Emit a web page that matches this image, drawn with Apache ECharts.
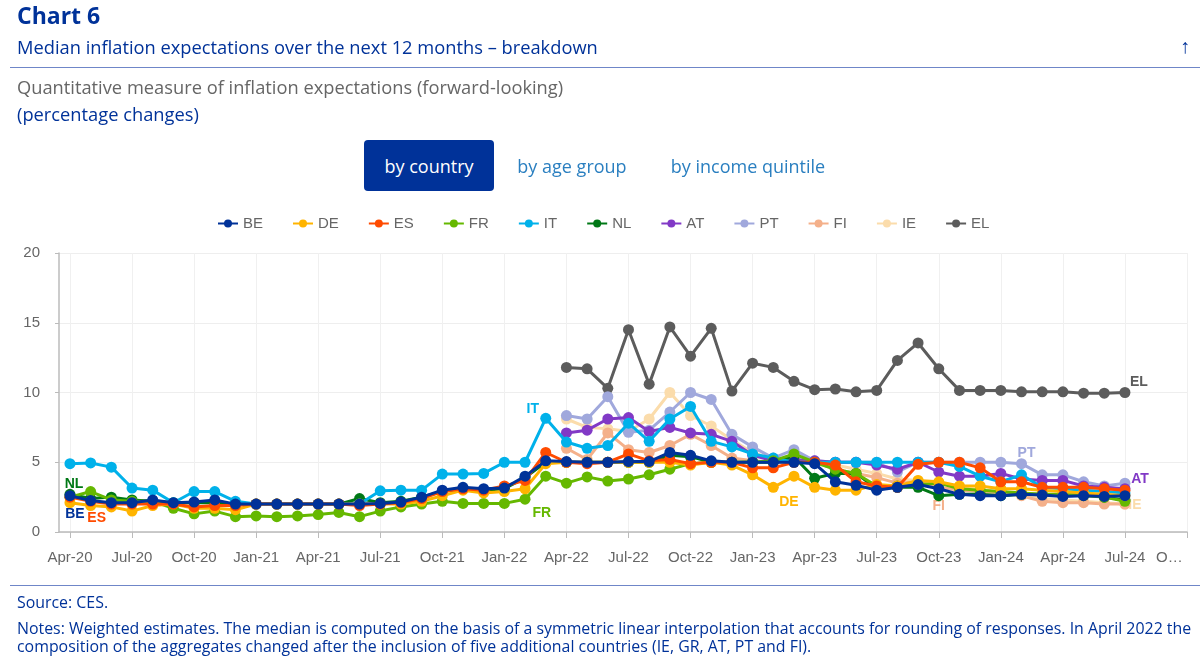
<!DOCTYPE html>
<html>
<head>
<meta charset="utf-8">
<script src="https://cdn.jsdelivr.net/npm/echarts@6/dist/echarts.min.js"></script>
<style>
  html, body { margin: 0; padding: 0; background: #fff; }
  body { width: 1200px; height: 660px; position: relative; overflow: hidden; font-family: "Open Sans", sans-serif; }
  #chart { position: absolute; left: 0; top: 0; width: 1200px; height: 660px; }
  .t { position: absolute; white-space: nowrap; color: #003299; font-size: 18.3px; line-height: 20px; }
  .rule { position: absolute; left: 10px; right: 0; height: 1px; background: #6f86c8; }
  .btn { position: absolute; left: 364px; top: 140px; width: 130px; height: 51px; border-radius: 4px; background: #003299; }
  .tab { color: #2a7fc0; font-size: 18px; line-height: 24px; top: 154px; transform: translateX(-50%); }
</style>
</head>
<body>
<div id="chart"></div>
<div class="t" style="left:17px;top:2px;font-size:23px;line-height:26px;font-weight:700">Chart 6</div>
<div class="t" style="left:17px;top:37px">Median inflation expectations over the next 12 months – breakdown</div>
<div class="t" style="left:1180px;top:36px;font-size:20px;font-weight:700">↑</div>
<div class="rule" style="top:67px"></div>
<div class="t" style="left:17px;top:77px;color:#666">Quantitative measure of inflation expectations (forward-looking)</div>
<div class="t" style="left:17px;top:104px">(percentage changes)</div>
<div class="btn"></div>
<div class="t tab" style="left:429px;color:#fff">by country</div>
<div class="t tab" style="left:572px">by age group</div>
<div class="t tab" style="left:748px">by income quintile</div>
<div class="rule" style="top:585px"></div>
<div class="t" style="left:17px;top:592px;font-size:15.9px">Source: CES.</div>
<div class="t" style="left:17px;top:619px;font-size:15.9px;line-height:18px">Notes: Weighted estimates. The median is computed on the basis of a symmetric linear interpolation that accounts for rounding of responses. In April 2022 the<br>composition of the aggregates changed after the inclusion of five additional countries (IE, GR, AT, PT and FI).</div>
<script>
// ─── data (monthly, Apr-20 .. Jul-24) ───
const months = ['Apr-20','May-20','Jun-20','Jul-20','Aug-20','Sep-20','Oct-20','Nov-20','Dec-20',
  'Jan-21','Feb-21','Mar-21','Apr-21','May-21','Jun-21','Jul-21','Aug-21','Sep-21','Oct-21','Nov-21','Dec-21',
  'Jan-22','Feb-22','Mar-22','Apr-22','May-22','Jun-22','Jul-22','Aug-22','Sep-22','Oct-22','Nov-22','Dec-22',
  'Jan-23','Feb-23','Mar-23','Apr-23','May-23','Jun-23','Jul-23','Aug-23','Sep-23','Oct-23','Nov-23','Dec-23',
  'Jan-24','Feb-24','Mar-24','Apr-24','May-24','Jun-24','Jul-24','Aug-24','Sep-24','Oct-24'];

const BE = [2.6,2.25,2.1,2.1,2.3,2.1,2.15,2.3,2.0,2.0,2.0,2.0,2.0,2.0,2.0,2.05,2.15,2.5,3.0,3.2,3.1,3.15,4.0,5.1,5.05,5.0,5.0,5.05,5.05,5.7,5.5,5.1,5.0,5.0,5.0,5.0,4.9,3.6,3.35,3.0,3.2,3.4,3.1,2.7,2.6,2.6,2.7,2.65,2.55,2.6,2.55,2.6];
const DE = [2.1,1.9,1.8,1.5,1.9,2.0,1.7,1.7,1.6,2.0,2.0,2.0,2.0,2.0,2.0,2.0,2.0,2.2,2.6,3.0,2.8,2.9,3.1,4.9,5.0,5.0,5.0,5.0,5.0,5.0,4.8,5.0,4.8,4.1,3.2,4.0,3.2,3.0,3.0,3.4,3.3,3.7,3.6,3.3,3.3,3.1,3.1,3.0,2.9,2.8,2.7,2.6];
const ES = [2.5,2.2,2.0,2.0,2.0,2.0,1.8,1.9,1.9,2.0,2.0,2.0,2.0,2.0,1.9,2.0,2.1,2.4,2.9,3.1,3.0,3.3,3.7,5.7,5.0,4.9,5.0,5.6,5.1,5.2,4.9,5.0,5.0,4.6,4.6,5.0,5.0,4.8,3.6,3.3,3.2,4.85,5.0,5.0,4.6,3.6,3.6,3.2,3.2,3.2,3.1,3.0];
const FR = [2.5,2.9,2.3,2.2,2.2,1.7,1.3,1.5,1.1,1.15,1.1,1.15,1.25,1.4,1.1,1.5,1.8,2.0,2.2,2.05,2.05,2.05,2.35,4.0,3.5,3.95,3.65,3.8,4.1,4.5,4.9,5.0,5.0,5.0,5.1,5.6,5.0,4.5,4.2,3.3,3.3,3.4,3.5,3.1,3.0,2.9,2.8,2.7,2.7,2.6,2.5,2.2];
const IT = [4.9,4.95,4.65,3.15,3.0,2.1,2.9,2.9,2.2,2.0,2.0,2.0,2.0,2.0,2.0,2.95,3.0,3.0,4.15,4.15,4.2,5.0,5.0,8.15,6.45,6.0,6.2,7.8,6.5,8.1,9.0,6.5,6.1,5.6,5.3,5.0,5.0,5.0,5.0,5.0,5.0,5.0,5.0,4.7,4.0,3.6,4.1,3.2,3.1,3.0,2.9,2.8];
const NL = [2.7,2.4,2.5,2.3,2.2,2.1,2.1,2.1,2.0,2.0,2.0,2.0,2.0,2.0,2.4,2.1,2.2,2.5,2.9,3.1,3.0,3.1,3.9,5.0,5.0,5.0,5.0,5.0,5.0,5.5,5.4,5.0,5.0,5.0,5.0,5.4,3.85,4.2,4.2,3.1,3.2,3.2,2.6,2.7,2.7,2.6,2.7,2.7,2.6,2.7,2.5,2.3];
const AT = [null,null,null,null,null,null,null,null,null,null,null,null,null,null,null,null,null,null,null,null,null,null,null,null,7.1,7.3,8.1,8.2,7.2,7.5,7.1,7.0,6.5,5.5,5.1,5.2,5.1,5.0,5.0,4.8,4.5,5.0,4.3,4.0,4.0,4.2,3.8,3.7,3.7,3.3,3.2,3.1];
const PT = [null,null,null,null,null,null,null,null,null,null,null,null,null,null,null,null,null,null,null,null,null,null,null,null,8.35,8.1,9.7,7.15,7.3,8.6,10.0,9.5,7.0,6.1,5.3,5.9,5.1,5.0,5.0,5.0,4.3,5.0,5.0,5.0,5.0,5.0,4.9,4.1,4.1,3.6,3.3,3.5];
const FI = [null,null,null,null,null,null,null,null,null,null,null,null,null,null,null,null,null,null,null,null,null,null,null,null,6.0,5.2,7.1,5.9,5.7,6.2,7.0,6.2,5.3,5.1,5.0,5.0,5.0,4.5,4.2,3.9,3.5,3.6,3.2,3.0,2.9,2.8,2.6,2.2,2.1,2.1,2.0,2.0];
const IE = [null,null,null,null,null,null,null,null,null,null,null,null,null,null,null,null,null,null,null,null,null,null,null,null,8.1,7.5,7.4,7.2,8.1,10.0,8.35,7.6,6.6,5.7,5.2,5.0,5.0,4.8,4.5,4.2,3.8,3.7,3.5,3.2,3.0,2.9,2.7,2.4,2.3,2.2,2.1,2.0];
const EL = [null,null,null,null,null,null,null,null,null,null,null,null,null,null,null,null,null,null,null,null,null,null,null,null,11.8,11.7,10.3,14.5,10.6,14.7,12.6,14.6,10.1,12.1,11.8,10.8,10.2,10.25,10.05,10.15,12.3,13.55,11.7,10.15,10.15,10.15,10.05,10.05,10.05,9.95,9.95,10.0];

const seriesNames = ['BE','DE','ES','FR','IT','NL','AT','PT','FI','IE','EL'];
const seriesValues = { BE, DE, ES, FR, IT, NL, AT, PT, FI, IE, EL };

// x ticks every three months, labels as in the original
const tickMonths = [0,3,6,9,12,15,18,21,24,27,30,33,36,39,42,45,48,51,54];

// ─── style ───
const COLORS = { BE:'#003299', DE:'#ffb400', ES:'#ff4b00', FR:'#65b800', IT:'#00b1ea', NL:'#007816',
  AT:'#8139c6', PT:'#a0a8dc', FI:'#f4b08a', IE:'#fbdcab', EL:'#5c5c5c' };
// draw order: later countries sit underneath, BE on top
const DRAW_Z = { EL:1, IE:2, FI:3, PT:4, AT:5, NL:6, IT:7, FR:8, DE:9, ES:10, BE:11 };
// direct labels: point index and pixel offset from the point
const DIRECT = {
  BE:[0,[5,18]], ES:[1,[6,17]], NL:[0,[4,-10]], IT:[23,[-13,-9]], FR:[23,[-4,37]], DE:[35,[-5,26]],
  FI:[42,[0,19]], PT:[46,[5,-11]], AT:[51,[15,-10]], IE:[51,[10,1]], EL:[51,[14,-10]],
};
const FONT = '"Liberation Sans", Arial, sans-serif';
const AXIS_TXT = '#666';
const OVERFLOW_LABEL_AT = 53.15;   // the last label is cut off and pushed left in the original

function buildSeries(name) {
  const data = seriesValues[name].map((v, i) => {
    if (v === null) return [i, null];
    const d = DIRECT[name];
    if (d && d[0] === i) {
      return {
        value: [i, v],
        label: {
          show: true, formatter: name, position: 'inside', offset: d[1],
          color: COLORS[name], fontFamily: FONT, fontSize: 14, fontWeight: 'bold',
        },
      };
    }
    return [i, v];
  });
  return {
    name, type: 'line', data, z: DRAW_Z[name],
    symbol: 'circle', symbolSize: 11, showAllSymbol: true,
    lineStyle: { width: 3, color: COLORS[name] },
    itemStyle: { color: COLORS[name] },
    emphasis: { disabled: true },
    animation: false,
  };
}

const chart = echarts.init(document.getElementById('chart'), null, { renderer: 'canvas' });
chart.setOption({
  animation: false,
  legend: {
    top: 211, left: 212, itemWidth: 20, itemHeight: 10, itemGap: 29,
    data: seriesNames,
    textStyle: { color: AXIS_TXT, fontFamily: FONT, fontSize: 15 },
  },
  grid: { left: 59, right: 13, top: 253, bottom: 128 },
  xAxis: {
    type: 'value', min: -0.53, max: 54,
    axisLine: { show: true, onZero: false, lineStyle: { color: '#bbb', width: 1.5 } },
    axisTick: { show: true, customValues: tickMonths, length: 6, lineStyle: { color: '#bbb' } },
    axisLabel: {
      customValues: tickMonths.slice(0, -1).concat(OVERFLOW_LABEL_AT),
      color: AXIS_TXT, fontFamily: FONT, fontSize: 15, margin: 18,
      showMinLabel: true, showMaxLabel: true,
      formatter: (v) => (v === OVERFLOW_LABEL_AT ? 'O…' : months[v]),
    },
    splitLine: { show: true, lineStyle: { color: '#f0f0f0' } },
  },
  yAxis: {
    type: 'value', min: 0, max: 20, interval: 5,
    axisLine: { show: true, onZero: false, lineStyle: { color: '#bbb', width: 1.5 } },
    axisTick: { show: true, length: 4, lineStyle: { color: '#bbb' } },
    axisLabel: { color: AXIS_TXT, fontFamily: FONT, fontSize: 15, margin: 19 },
    splitLine: { show: true, lineStyle: { color: '#eeeeee' } },
  },
  series: seriesNames.map(buildSeries),
});
</script>
</body>
</html>
